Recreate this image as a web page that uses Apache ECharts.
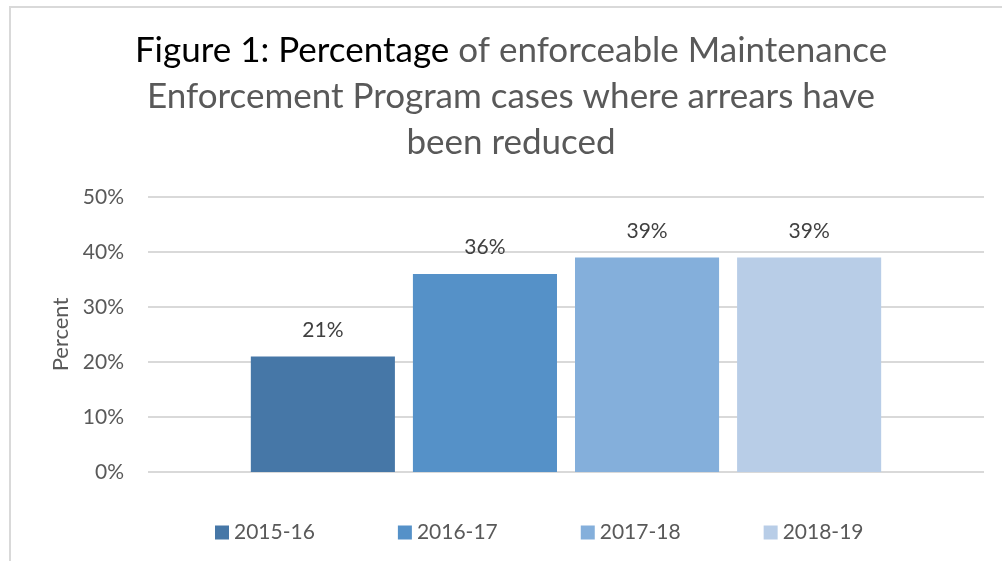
<!DOCTYPE html>
<html>
<head>
<meta charset="utf-8">
<script src="https://cdn.jsdelivr.net/npm/echarts@6/dist/echarts.min.js"></script>
<style>
    html, body { margin: 0; padding: 0; background: #fff; }
    #chart { width: 1002px; height: 561px; }
</style>
</head>
<body>
<div id="chart"></div>
<script>
var years = ['2015-16', '2016-17', '2017-18', '2018-19'];
var percentValues = [21, 36, 39, 39];
var barColors = ['#4677a7', '#5591c8', '#84afdb', '#b8cde7'];
var yTicks = { min: 0, max: 50, interval: 10 };

var font = 'Lato';

var series = years.map(function (year, i) {
    return {
        name: year,
        type: 'bar',
        barGap: '12.5%',
        barCategoryGap: '24.6%',
        itemStyle: { color: barColors[i] },
        label: {
            show: true,
            position: 'top',
            distance: 16,
            formatter: '{c}%',
            fontFamily: font,
            fontSize: 21,
            color: '#404040'
        },
        data: [percentValues[i]]
    };
});

var chart = echarts.init(document.getElementById('chart'));
chart.setOption({
    animation: false,
    textStyle: { fontFamily: font },
    title: {
        left: 506,
        top: 23,
        textAlign: 'center',
        text: '{a|Figure 1: Percentage}{b| of enforceable Maintenance}\n' +
            '{b|Enforcement Program cases where arrears have}\n' +
            '{b|been reduced}',
        textStyle: {
            fontWeight: 'normal',
            rich: {
                a: { fontFamily: font, fontSize: 35, fontWeight: 'normal', color: '#000', lineHeight: 46 },
                b: { fontFamily: font, fontSize: 35, fontWeight: 'normal', color: '#595959', lineHeight: 46 }
            }
        }
    },
    graphic: [{
        type: 'rect',
        shape: { x: 10, y: 7, width: 1100, height: 700 },
        style: { fill: 'none', stroke: '#d9d9d9', lineWidth: 2 },
        silent: true
    }],
    legend: {
        left: 210,
        top: 517,
        itemWidth: 14,
        itemHeight: 14,
        itemGap: 83,
        icon: 'rect',
        textStyle: { fontFamily: font, fontSize: 21, color: '#595959' },
        data: years
    },
    grid: {
        left: 148,
        right: 18,
        top: 197,
        bottom: 89
    },
    xAxis: {
        type: 'category',
        data: [''],
        axisLine: { show: false },
        axisTick: { show: false },
        axisLabel: { show: false }
    },
    yAxis: {
        type: 'value',
        min: yTicks.min,
        max: yTicks.max,
        interval: yTicks.interval,
        name: 'Percent',
        nameLocation: 'middle',
        nameGap: 74,
        nameTextStyle: { fontFamily: font, fontSize: 22, color: '#595959' },
        axisLabel: {
            formatter: '{value}%',
            margin: 24,
            fontFamily: font,
            fontSize: 21,
            color: '#595959'
        },
        splitLine: { lineStyle: { color: '#d9d9d9', width: 2 } }
    },
    series: series
});
</script>
</body>
</html>
